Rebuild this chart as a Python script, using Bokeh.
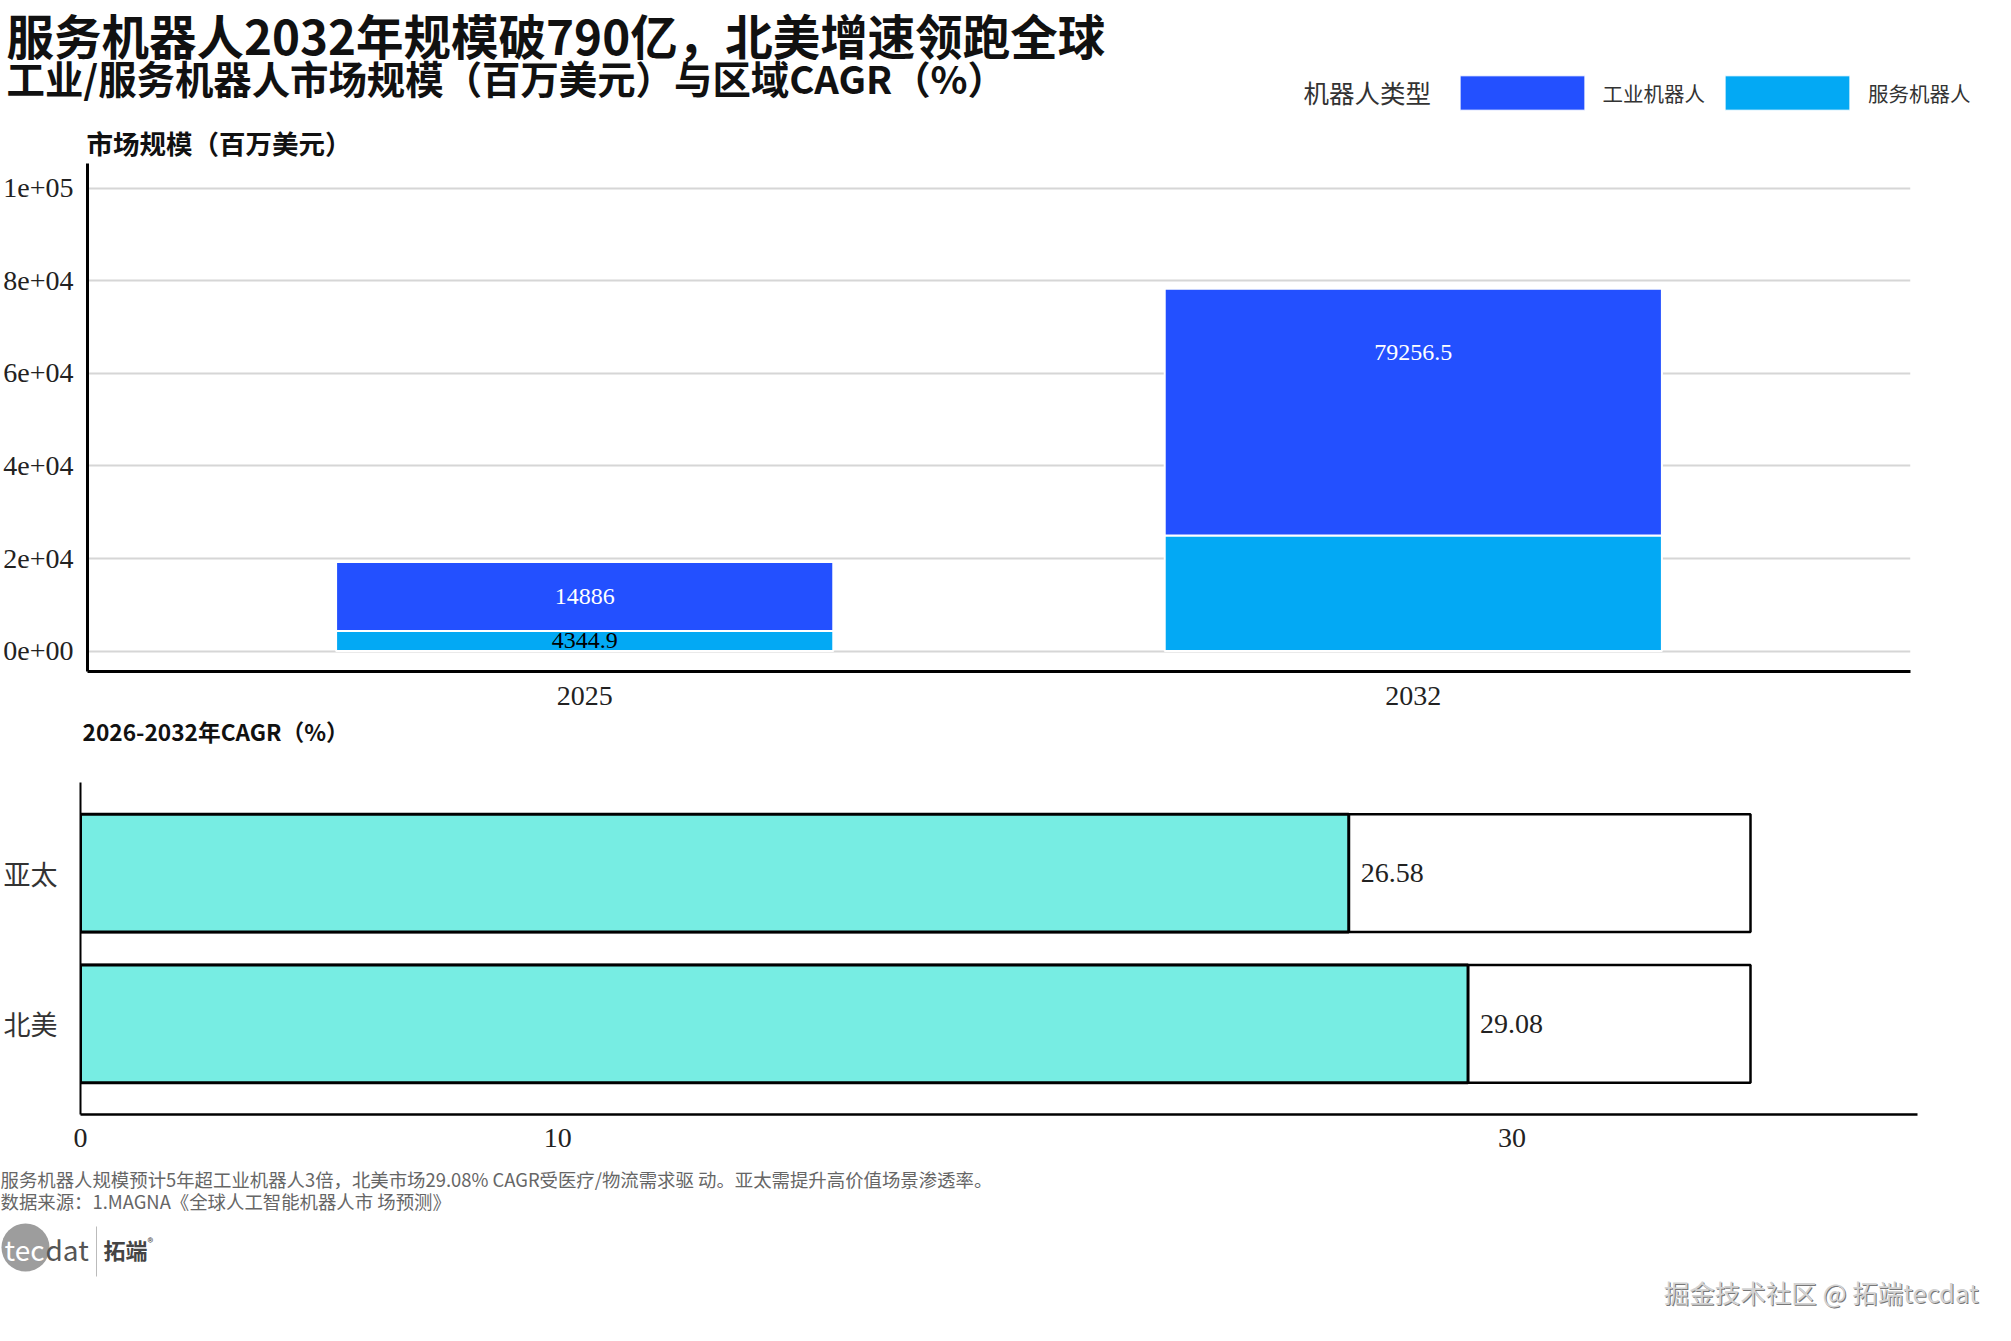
from bokeh.plotting import figure
from bokeh.models import (ColumnDataSource, FactorRange, Range1d, Label, Legend, LegendItem)
from bokeh.layouts import column
from bokeh.embed import file_html
from bokeh.resources import INLINE
from bokeh.core.properties import value

# ---------------- data ----------------
years = ["2025", "2032"]
service = [4344.9, 25000.0]            # 服务机器人 (bottom segment)
industrial = [14886.0, 53300.0]        # 工业机器人 (drawn segment height)
industrial_label_values = [14886.0, 79256.5]
industrial_labels = ["14886", "79256.5"]
service_labels = ["4344.9", ""]
y_ticks = [0, 20000, 40000, 60000, 80000, 100000]
y_tick_labels = ["0e+00", "2e+04", "4e+04", "6e+04", "8e+04", "1e+05"]

regions = ["北美", "亚太"]
cagr = [29.08, 26.58]
cagr_track = [35, 35]
cagr_labels = ["29.08", "26.58"]
cagr_ticks = [0, 10, 30]

TITLE = "服务机器人2032年规模破790亿，北美增速领跑全球"
SUBTITLE = "工业/服务机器人市场规模（百万美元）与区域CAGR（%）"
YLAB = "市场规模（百万美元）"
CAGR_TITLE = "2026-2032年CAGR（%）"
LEGEND_TITLE = "机器人类型"
LEGEND_LABELS = ["工业机器人", "服务机器人"]
FOOT1 = "服务机器人规模预计5年超工业机器人3倍，北美市场29.08% CAGR受医疗/物流需求驱 动。亚太需提升高价值场景渗透率。"
FOOT2 = "数据来源：1.MAGNA《全球人工智能机器人市 场预测》"
WATERMARK = "掘金技术社区 @ 拓端tecdat"

SERVICE_C = "#03A9F4"
IND_C = "#2350FF"
TEAL = "#77EDE3"
CJK = "Noto Sans CJK SC"
SERIF = "Liberation Serif"

W = 1995


def blank(height):
    """figure whose frame is the whole canvas, with pixel units (y downwards)"""
    f = figure(width=W, height=height, title=None,
               x_range=Range1d(0, W), y_range=Range1d(height, 0),
               x_axis_location=None, y_axis_location=None,
               output_backend="svg", toolbar_location=None,
               min_border=0, frame_align=False)
    f.outline_line_color = None
    f.grid.visible = False
    f.background_fill_color = "white"
    f.border_fill_color = "white"
    return f


def lab(f, x, y, text, size, color="#111111", bold=False, align="left", font=CJK):
    f.add_layout(Label(x=x, y=y, text=text, text_font=font, text_font_size=size,
                       text_font_style="bold" if bold else "normal",
                       text_color=color, text_align=align, text_baseline="middle"))


# ---------------- header ----------------
H_H = 163
pH = blank(H_H)
lab(pH, 6, 34, TITLE, "47.5px", bold=True)
lab(pH, 6, 76, SUBTITLE, "38.4px", bold=True)
lab(pH, 86, 142, YLAB, "26.5px", bold=True)
lab(pH, 1303, 91, LEGEND_TITLE, "25.5px", color="#333333")
# off-canvas samples that only feed the legend keys
leg_ind = pH.vbar(x=[-1000], top=[-1000], width=1, fill_color=IND_C, line_color="white", line_width=1)
leg_srv = pH.vbar(x=[-1000], top=[-1000], width=1, fill_color=SERVICE_C, line_color="white", line_width=1)
legend = Legend(items=[LegendItem(label=LEGEND_LABELS[0], renderers=[leg_ind]),
                       LegendItem(label=LEGEND_LABELS[1], renderers=[leg_srv])],
                orientation="horizontal", location=(1443.5, H_H - 114),
                glyph_width=156, glyph_height=43, label_standoff=3, spacing=4,
                padding=0, margin=0, border_line_color=None,
                background_fill_alpha=0,
                label_text_font=CJK, label_text_font_size="20.5px",
                label_text_color="#333333")
pH.add_layout(legend, "center")

# ---------------- top chart ----------------
A_BOTTOM = 712
A_FRAME_BOTTOM = 671
pA = figure(width=W, height=A_BOTTOM - H_H, title=None,
            x_range=FactorRange(factors=years, range_padding=0.1),
            y_range=Range1d(-4430, 105400),
            output_backend="svg", toolbar_location=None, frame_align=False,
            min_border_left=78, min_border_right=85,
            min_border_top=0, min_border_bottom=A_BOTTOM - A_FRAME_BOTTOM)
pA.outline_line_color = None
pA.background_fill_color = "white"
pA.border_fill_color = "white"

ds = ColumnDataSource(dict(
    year=years, service=service, industrial=industrial,
    ind_y=[s + v / 2 for s, v in zip(service, industrial_label_values)],
    srv_y=[v / 2 for v in service],
    ind_lab=industrial_labels, srv_lab=service_labels))

pA.vbar_stack(["service", "industrial"], x="year", width=0.6,
              fill_color=[SERVICE_C, IND_C], line_color="white",
              line_width=2, source=ds)

pA.text(x="year", y="ind_y", text="ind_lab", source=ds, text_color="white",
        text_align="center", text_baseline="middle",
        text_font=value(SERIF), text_font_size="24px")
pA.text(x="year", y="srv_y", text="srv_lab", source=ds, text_color="black",
        text_align="center", text_baseline="middle",
        text_font=value(SERIF), text_font_size="24px")

pA.xgrid.visible = False
pA.yaxis.ticker = y_ticks
pA.yaxis.major_label_overrides = dict(zip(y_ticks, y_tick_labels))
pA.ygrid.grid_line_color = "#d6d6d6"
pA.ygrid.grid_line_width = 2
for ax in (pA.xaxis[0], pA.yaxis[0]):
    ax.axis_line_color = "black"
    ax.axis_line_width = 3
    ax.major_tick_line_color = None
    ax.minor_tick_line_color = None
    ax.major_label_text_font = SERIF
    ax.major_label_text_font_size = "28px"
    ax.major_label_text_color = "#222222"
pA.yaxis.major_label_standoff = 8
pA.xaxis.major_label_standoff = 9

# ---------------- CAGR title strip ----------------
T_BOTTOM = 752
pT = blank(T_BOTTOM - A_BOTTOM)
lab(pT, 82, 19, CAGR_TITLE, "22.7px", bold=True)

# ---------------- CAGR chart ----------------
B_BOTTOM = 1152
pB = figure(width=W, height=B_BOTTOM - T_BOTTOM, title=None,
            y_range=FactorRange(factors=regions, range_padding=0.1),
            x_range=Range1d(0, 38.5),
            output_backend="svg", toolbar_location=None, frame_align=False,
            min_border_left=70, min_border_right=78,
            min_border_top=782 - T_BOTTOM, min_border_bottom=B_BOTTOM - 1114)
pB.outline_line_color = None
pB.background_fill_color = "white"
pB.border_fill_color = "white"

ds2 = ColumnDataSource(dict(region=regions, cagr=cagr, track=cagr_track, lab=cagr_labels))
pB.hbar(y="region", left=0, right="track", height=0.78, fill_color="white",
        line_color="black", line_width=2.5, source=ds2)
pB.hbar(y="region", left=0, right="cagr", height=0.78, fill_color=TEAL,
        line_color="black", line_width=3, source=ds2)
pB.text(x="cagr", y="region", text="lab", source=ds2, x_offset=12,
        text_align="left", text_baseline="middle", text_color="#222222",
        text_font=value(SERIF), text_font_size="28px")

pB.grid.visible = False
pB.xaxis.ticker = cagr_ticks
for ax in (pB.xaxis[0], pB.yaxis[0]):
    ax.axis_line_color = "black"
    ax.major_tick_line_color = None
    ax.minor_tick_line_color = None
    ax.major_label_text_color = "#222222"
pB.xaxis.axis_line_width = 2.5
pB.yaxis.axis_line_width = 2
pB.xaxis.major_label_text_font = SERIF
pB.xaxis.major_label_text_font_size = "28px"
pB.xaxis.major_label_standoff = 8
pB.yaxis.major_label_text_font = CJK
pB.yaxis.major_label_text_font_size = "27px"
pB.yaxis.major_label_text_color = "#333333"
pB.yaxis.major_label_standoff = 17

# ---------------- footer ----------------
H_C = 1325 - B_BOTTOM
pC = blank(H_C)
lab(pC, 0, 26, FOOT1, "18.4px", color="#666666")
lab(pC, 0, 48, FOOT2, "18.4px", color="#666666")
pC.scatter(x=[25], y=[95], marker="circle", size=48, fill_color="#9d9d9d", line_color=None)
lab(pC, 4, 96, "tec", "28px", color="white")
lab(pC, 45, 96, "dat", "28px", color="#555555")
pC.segment(x0=[96], y0=[74], x1=[96], y1=[124], line_color="#bbbbbb", line_width=1)
lab(pC, 103, 96, "拓端", "22px", color="#444444", bold=True)
lab(pC, 147, 89, "®", "12px", color="#444444")
lab(pC, 1979, 140, WATERMARK, "25.5px", color="#777777", align="right")
lab(pC, 1978, 139, WATERMARK, "25.5px", color="#d2d2d2", align="right")

layout = column(pH, pA, pT, pB, pC, spacing=0)
open("out.html", "w").write(file_html(layout, INLINE))
